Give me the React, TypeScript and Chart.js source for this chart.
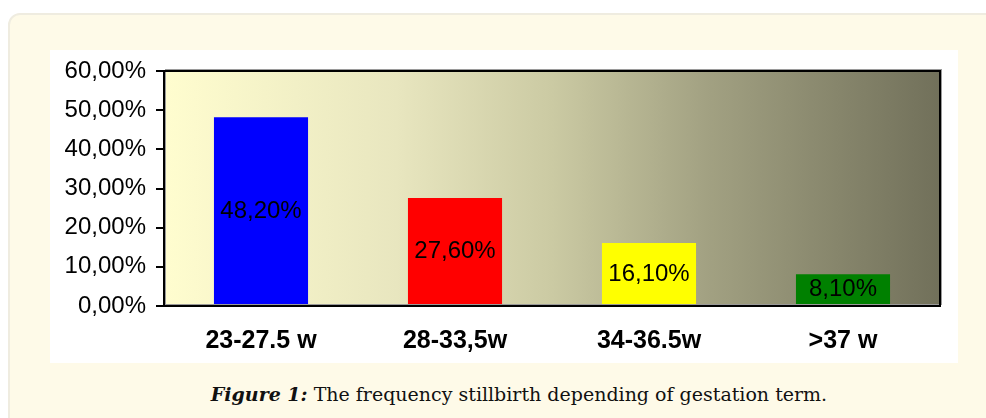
import React, { useEffect, useRef } from "react";
import { Chart, registerables } from "chart.js";

Chart.register(...registerables);

const categories = ["23-27.5 w", "28-33,5w", "34-36.5w", ">37 w"];
const values = [48.2, 27.6, 16.1, 8.1];
const barColors = ["#0000ff", "#ff0000", "#ffff00", "#008000"];
const yTicksMin = 0;
const yTicksMax = 60;
const yTicksStep = 10;

const fmt = (v: number) => v.toFixed(2).replace(".", ",") + "%";

const bgPlugin = {
  id: "plotBg",
  beforeDraw(chart: any) {
    const { ctx, chartArea } = chart;
    const { left, right, top, bottom } = chartArea;
    const g = ctx.createLinearGradient(left, 0, right, 0);
    g.addColorStop(0, "#fffdcf");
    g.addColorStop(0.3, "#e8e6bf");
    g.addColorStop(0.5, "#cbcaa3");
    g.addColorStop(0.7, "#a2a182");
    g.addColorStop(1, "#71705a");
    ctx.save();
    ctx.fillStyle = g;
    ctx.fillRect(left, top, right - left, bottom - top);
    ctx.restore();
  },
  afterDraw(chart: any) {
    const { ctx, chartArea } = chart;
    const { left, right, top, bottom } = chartArea;
    ctx.save();
    ctx.strokeStyle = "#9a9a9a";
    ctx.lineWidth = 1;
    ctx.strokeRect(left + 1.5, top - 1.5, right - left, bottom - top);
    ctx.strokeStyle = "#000000";
    ctx.lineWidth = 2;
    ctx.strokeRect(left, top, right - left, bottom - top);
    ctx.restore();
  },
};

const labelPlugin = {
  id: "barLabels",
  afterDatasetsDraw(chart: any) {
    const { ctx } = chart;
    const meta = chart.getDatasetMeta(0);
    ctx.save();
    ctx.font = '24px "Liberation Sans", Arial, sans-serif';
    ctx.fillStyle = "#000000";
    ctx.textAlign = "center";
    ctx.textBaseline = "middle";
    meta.data.forEach((bar: any, i: number) => {
      const y = (bar.y + bar.base) / 2;
      ctx.fillText(fmt(values[i]), bar.x, y);
    });
    ctx.restore();
  },
};

function BarChart() {
  const ref = useRef<HTMLCanvasElement | null>(null);
  useEffect(() => {
    if (!ref.current) return;
    const chart = new Chart(ref.current, {
      type: "bar",
      data: {
        labels: categories,
        datasets: [
          {
            data: values,
            backgroundColor: barColors,
            borderWidth: 0,
            categoryPercentage: 1,
            barPercentage: 0.485,
          },
        ],
      },
      options: {
        animation: false,
        responsive: false,
        maintainAspectRatio: false,
        layout: { padding: { top: 21, right: 18, left: 0, bottom: 0 } },
        plugins: {
          legend: { display: false },
          tooltip: { enabled: false },
          title: { display: false },
        },
        scales: {
          x: {
            grid: { display: false },
            border: { display: false },
            ticks: {
              color: "#000000",
              padding: 12,
              font: { family: '"Liberation Sans", Arial, sans-serif', size: 25, weight: "bold" },
            },
            afterFit(scale: any) {
              scale.height = 57;
            },
          },
          y: {
            min: yTicksMin,
            max: yTicksMax,
            grid: {
              drawOnChartArea: false,
              drawTicks: true,
              tickLength: 8,
              color: "#000000",
              lineWidth: 2,
            },
            border: { display: false },
            ticks: {
              stepSize: yTicksStep,
              color: "#000000",
              padding: 10,
              font: { family: '"Liberation Sans", Arial, sans-serif', size: 24 },
              callback: (v: any) => fmt(Number(v)),
            },
            afterFit(scale: any) {
              scale.width = 114;
              scale.paddingTop = 0;
              scale.paddingBottom = 0;
            },
          },
        },
      },
      plugins: [bgPlugin, labelPlugin],
    } as any);
    return () => chart.destroy();
  }, []);
  return <canvas ref={ref} width={908} height={313} style={{ display: "block" }} />;
}

export default function App() {
  return (
    <div>
      <div
        style={{
          position: "fixed",
          left: 8,
          top: 13,
          width: 1000,
          height: 440,
          boxSizing: "border-box",
          border: "2px solid #efece0",
          borderRadius: 12,
          background: "#fefae8",
        }}
      />
      <div
        style={{
          position: "fixed",
          left: 50,
          top: 50,
          width: 908,
          height: 313,
          background: "#ffffff",
        }}
      >
        <BarChart />
      </div>
      <div
        style={{
          position: "fixed",
          left: 119,
          top: 383,
          width: 800,
          textAlign: "center",
          fontFamily: '"DejaVu Serif", serif',
          fontSize: 19,
          lineHeight: "22px",
          color: "#111111",
          whiteSpace: "nowrap",
        }}
      >
        <b><i>Figure 1:</i></b> The frequency stillbirth depending of gestation term.
      </div>
    </div>
  );
}
